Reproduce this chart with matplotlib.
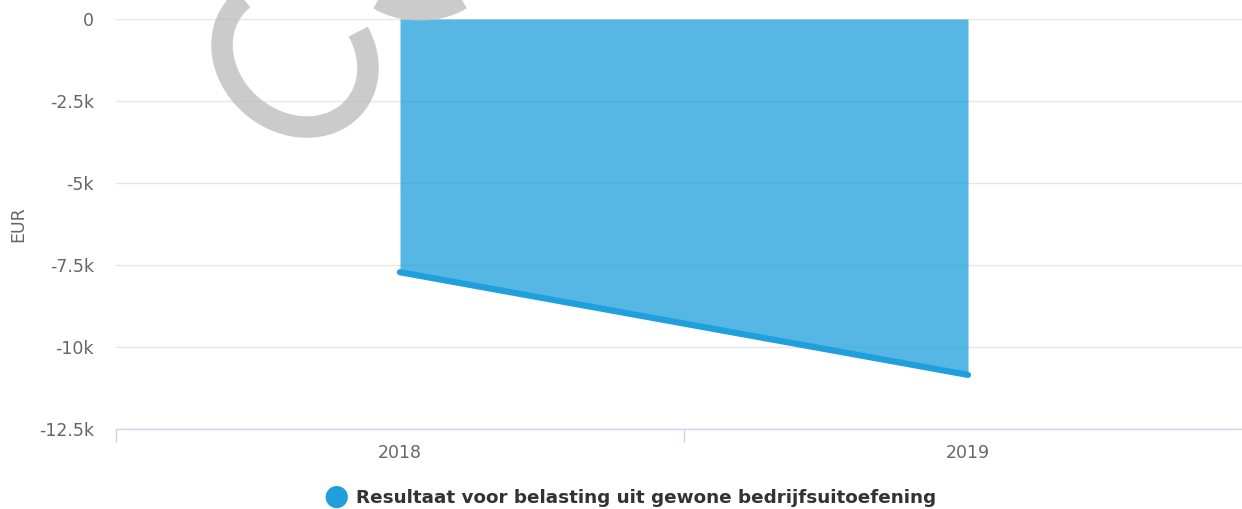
import matplotlib
matplotlib.use('Agg')
import matplotlib.pyplot as plt
import numpy as np

years = ['2018', '2019']
resultaat = [-7720, -10850]
yticks = [0, -2500, -5000, -7500, -10000, -12500]
ytick_labels = ['0', '-2.5k', '-5k', '-7.5k', '-10k', '-12.5k']
series_name = 'Resultaat voor belasting uit gewone bedrijfsuitoefening'

plt.rcParams['font.family'] = 'DejaVu Sans'

W, H = 1242, 509
fig = plt.figure(figsize=(W / 100, H / 100), dpi=100)
# plot area runs a bit past the right edge of the image
ax = fig.add_axes([116 / W, 1 - 429 / H, (1252 - 116) / W, (429 - 19) / H])

x = np.arange(len(years))
ax.fill_between(x, 0, resultaat, color='#1f9fdc', alpha=0.75, linewidth=0, zorder=2)
ax.plot(x, resultaat, color='#1f9fdc', linewidth=4.5, solid_capstyle='round', zorder=3, clip_on=False)

ax.set_xlim(-0.5, len(years) - 0.5)
ax.set_ylim(-12500, 0)

ax.set_yticks(yticks)
ax.set_yticklabels(ytick_labels)
ax.set_xticks(x)
ax.set_xticklabels(years)
ax.set_xticks(np.arange(-0.5, len(years), 1.0), minor=True)

ax.tick_params(axis='y', length=0, pad=16, labelsize=12.5, labelcolor='#666666')
ax.tick_params(axis='x', which='major', length=0, pad=11, labelsize=12.5, labelcolor='#666666')
ax.tick_params(axis='x', which='minor', length=9.5, width=1, color='#ccd6eb', direction='out')

ax.grid(axis='y', color='#e6e6e6', linewidth=1, zorder=0)
ax.set_axisbelow(True)
for s in ['top', 'right', 'left']:
    ax.spines[s].set_visible(False)
ax.spines['bottom'].set_color('#ccd6eb')
ax.spines['bottom'].set_linewidth(1)

fig.text(18 / W, 1 - 224 / H, 'EUR', rotation=90, ha='center', va='center',
         fontsize=12.5, color='#666666')

# watermark (pixel coords, y down)
ax_wm = fig.add_axes([0, 0, 1, 1], facecolor='none')
ax_wm.set_xlim(0, W)
ax_wm.set_ylim(H, 0)
ax_wm.axis('off')
t = np.radians(np.linspace(-30, 290, 300))
wx = 295 + 73 * np.cos(t)
wy = 56.5 + 11.5 * np.cos(t) + 69.6 * np.sin(t)
ax_wm.plot(wx, wy, color='#bfbfbf', alpha=0.8, linewidth=15.5, solid_capstyle='butt')
t2 = np.radians(np.linspace(0, 180, 200))
ax_wm.plot(420 + 84 * np.cos(t2), -74 + 84 * np.sin(t2), color='#bfbfbf', alpha=0.8,
           linewidth=15.5, solid_capstyle='butt')

# legend
fig.text(336 / W, 1 - 497 / H, '\u25cf', ha='center', va='center',
         fontsize=21, color='#1f9fdc')
fig.text(356 / W, 1 - 498 / H, series_name, ha='left', va='center',
         fontsize=13.2, fontweight='bold', color='#333333')

fig.savefig('out.png', dpi=100)
